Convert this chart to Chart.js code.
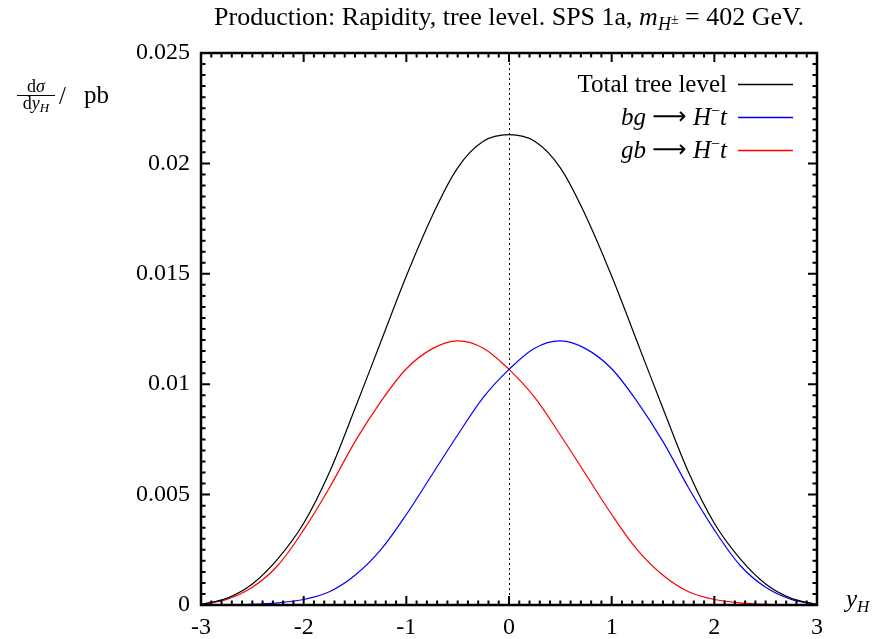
<!DOCTYPE html>
<html lang="en">
<head>
<meta charset="UTF-8">
<title>Production: Rapidity, tree level</title>
<script src="https://cdn.jsdelivr.net/npm/chart.js"></script>
<style>
  html, body { margin: 0; padding: 0; background: #fff; }
</style>
</head>
<body>
<canvas id="chart" width="887" height="639"></canvas>
<script>
// rapidity y_H and dsigma/dy_H in pb
const rapidity = [-3, -2.75, -2.5, -2.25, -2, -1.75, -1.5, -1.25, -1, -0.75, -0.5, -0.25,
                  0, 0.25, 0.5, 0.75, 1, 1.25, 1.5, 1.75, 2, 2.25, 2.5, 2.75, 3];
const totalTree = [0.00003, 0.0003, 0.00095, 0.0021, 0.0037, 0.0060, 0.0089, 0.0119, 0.0149, 0.0176, 0.0198, 0.0210,
                   0.0213, 0.0210, 0.0198, 0.0176, 0.0149, 0.0119, 0.0089, 0.0060, 0.0037, 0.0021, 0.00095, 0.0003, 0.00003];
const bgToHt = [0, 0.00001, 0.00003, 0.0001, 0.00025, 0.0006, 0.00135, 0.0025, 0.0041, 0.0059, 0.0077, 0.0094,
                0.01067, 0.01163, 0.01196, 0.0116, 0.0107, 0.0092, 0.0074, 0.0053, 0.0034, 0.0018, 0.0008, 0.00025, 0.00002];
const gbToHt = [0.00002, 0.00025, 0.0008, 0.0018, 0.0034, 0.0053, 0.0074, 0.0092, 0.0107, 0.0116, 0.01196, 0.01163,
                0.01067, 0.0094, 0.0077, 0.0059, 0.0041, 0.0025, 0.00135, 0.0006, 0.00025, 0.0001, 0.00003, 0.00001, 0];
const xTicks = [-3, -2, -1, 0, 1, 2, 3];
const yTicks = [0, 0.005, 0.01, 0.015, 0.02, 0.025];
const seriesColors = ['#000000', '#0000ff', '#ff0000'];

const serif = '"Liberation Serif", "DejaVu Serif", serif';
const rm = s => s + 'px ' + serif;
const it = s => 'italic ' + s + 'px ' + serif;
const arrowFont = '24px "DejaVu Sans", sans-serif';

// rich text: list of [text, font, dy]
function richWidth(ctx, segs) {
    let w = 0;
    segs.forEach(s => { ctx.font = s[1]; w += ctx.measureText(s[0]).width; });
    return w;
}
function drawRich(ctx, segs, x, y, align) {
    let w = richWidth(ctx, segs);
    let cx = align === 'right' ? x - w : align === 'center' ? x - w / 2 : x;
    ctx.textBaseline = 'alphabetic';
    ctx.textAlign = 'left';
    segs.forEach(s => {
        ctx.font = s[1];
        ctx.fillText(s[0], cx, y + (s[2] || 0));
        cx += ctx.measureText(s[0]).width;
    });
}

const titleSegs = [
    ['Production: Rapidity, tree level. SPS 1a, ', rm(26)],
    ['m', it(26)], ['H', it(18), 5], ['\u00b1', rm(14), -1],
    [' = 402 GeV.', rm(26)]
];
const reaction = first => [
    [first, it(25)], [' ', rm(25)], ['\u27f6', arrowFont, -1], [' ', rm(25)],
    ['H', it(25)], ['\u2212', rm(16), -9], ['t', it(25)]
];
const legendSegs = [
    [['Total tree level', rm(25)]],
    reaction('bg'),
    reaction('gb')
];

const framePlugin = {
    id: 'frame',
    beforeDatasetsDraw(chart) {
        const ctx = chart.ctx, a = chart.chartArea;
        const xs = chart.scales.x;
        ctx.save();
        ctx.strokeStyle = '#000';
        ctx.lineWidth = 1;
        ctx.setLineDash([2, 3]);
        const x0 = Math.round(xs.getPixelForValue(0)) + 0.5;
        ctx.beginPath();
        ctx.moveTo(x0, a.top);
        ctx.lineTo(x0, a.bottom);
        ctx.stroke();
        ctx.restore();
    },
    afterDatasetsDraw(chart) {
        const ctx = chart.ctx, a = chart.chartArea;
        const xs = chart.scales.x, ys = chart.scales.y;
        ctx.save();
        ctx.strokeStyle = '#000';
        ctx.fillStyle = '#000';
        // minor and major ticks pointing inward on all four sides
        ctx.lineWidth = 2;
        ctx.beginPath();
        for (let i = 0; i <= 60; i++) {
            const px = xs.getPixelForValue(-3 + i * 0.1);
            const len = i % 10 === 0 ? 9 : 4.5;
            ctx.moveTo(px, a.bottom); ctx.lineTo(px, a.bottom - len);
            ctx.moveTo(px, a.top); ctx.lineTo(px, a.top + len);
        }
        for (let i = 0; i <= 50; i++) {
            const py = ys.getPixelForValue(i * 0.0005);
            const len = i % 10 === 0 ? 9 : 4.5;
            ctx.moveTo(a.left, py); ctx.lineTo(a.left + len, py);
            ctx.moveTo(a.right, py); ctx.lineTo(a.right - len, py);
        }
        ctx.stroke();
        ctx.lineWidth = 2.5;
        ctx.strokeRect(a.left, a.top, a.right - a.left, a.bottom - a.top);

        // legend
        chart.data.datasets.forEach((ds, i) => {
            const y = a.top + 31 + i * 33;
            ctx.fillStyle = '#000';
            drawRich(ctx, legendSegs[i], a.right - 90, y + 8, 'right');
            ctx.strokeStyle = seriesColors[i];
            ctx.lineWidth = 1.4;
            ctx.beginPath();
            ctx.moveTo(a.right - 79, y + 0.5);
            ctx.lineTo(a.right - 24, y + 0.5);
            ctx.stroke();
        });

        // title
        ctx.fillStyle = '#000';
        drawRich(ctx, titleSegs, (a.left + a.right) / 2, 25, 'center');

        // y axis label: dsigma/dy_H / pb
        drawRich(ctx, [['d', rm(18)], ['\u03c3', it(18)]], 36, 92, 'center');
        ctx.fillRect(17, 95, 38, 1);
        drawRich(ctx, [['d', rm(18)], ['y', it(18)], ['H', it(13), 3]], 36, 109, 'center');
        drawRich(ctx, [['/', rm(25)]], 59, 104, 'left');
        drawRich(ctx, [['pb', rm(25)]], 84, 103, 'left');

        // x axis label y_H
        drawRich(ctx, [['y', it(25)], ['H', it(17), 5]], a.right + 29, 607, 'left');
        ctx.restore();
    }
};

const mk = (label, vals, color) => ({
    label: label,
    data: rapidity.map((x, i) => ({ x: x, y: vals[i] })),
    borderColor: color,
    borderWidth: 1.2,
    pointRadius: 0,
    fill: false,
    tension: 0.33
});

new Chart(document.getElementById('chart').getContext('2d'), {
    type: 'line',
    data: {
        datasets: [
            mk('Total tree level', totalTree, seriesColors[0]),
            mk('bg \u2192 H\u2212t', bgToHt, seriesColors[1]),
            mk('gb \u2192 H\u2212t', gbToHt, seriesColors[2])
        ]
    },
    options: {
        responsive: false,
        animation: false,
        layout: { padding: { left: 0, right: 70, top: 53, bottom: 0 } },
        plugins: { legend: { display: false }, title: { display: false }, tooltip: { enabled: false } },
        scales: {
            x: {
                type: 'linear', min: xTicks[0], max: xTicks[xTicks.length - 1],
                grid: { display: false, drawTicks: false }, border: { display: false },
                afterBuildTicks: s => { s.ticks = xTicks.map(v => ({ value: v })); },
                ticks: { color: '#000', font: { family: serif, size: 24 }, padding: 8, maxRotation: 0, autoSkip: false,
                         callback: v => String(v) },
                afterFit: s => { s.height = 34; }
            },
            y: {
                type: 'linear', min: yTicks[0], max: yTicks[yTicks.length - 1],
                grid: { display: false, drawTicks: false }, border: { display: false },
                afterBuildTicks: s => { s.ticks = yTicks.map(v => ({ value: v })); },
                ticks: { color: '#000', font: { family: serif, size: 24 }, padding: 11, autoSkip: false,
                         callback: v => String(+v.toFixed(3)) },
                afterFit: s => { s.width = 201; }
            }
        }
    },
    plugins: [framePlugin]
});
</script>
</body>
</html>
